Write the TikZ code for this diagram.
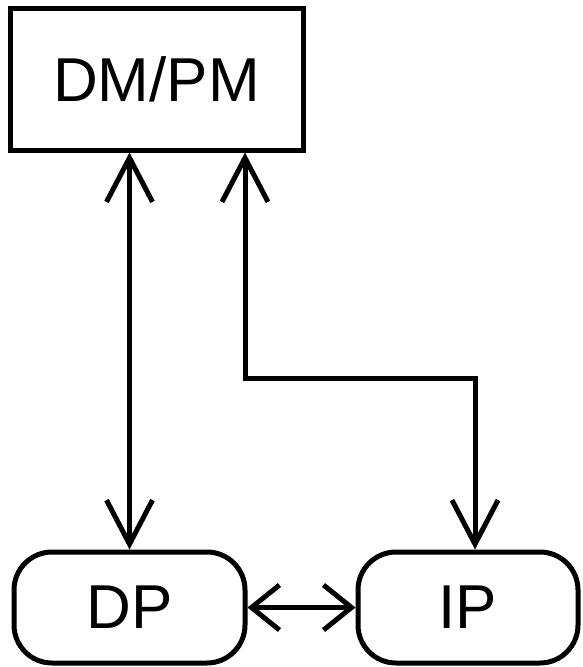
\documentclass[tikz,border=0pt]{standalone}
\usepackage{fontspec}
\setmainfont{Liberation Sans}
\usepackage{tikz}
\usetikzlibrary{positioning}
\usetikzlibrary{arrows.meta}

\begin{document}
\begin{tikzpicture}[x=1pt, y=-1pt,
        every node/.style={font=\fontsize{62}{70}\selectfont, line width=5pt, draw, inner sep=0pt},
        unit/.style={rectangle, minimum width=293pt, minimum height=142pt},
        proc/.style={rectangle, rounded corners=38pt, minimum height=111pt},
        link/.style={line width=5pt, {Straight Barb[length=44pt, width=46pt]}-{Straight Barb[length=44pt, width=46pt]}},
        side/.style={line width=5pt, {Straight Barb[length=28pt, width=45pt]}-{Straight Barb[length=28pt, width=45pt]}}]
        \useasboundingbox (0,0) rectangle (583,667);

        \node [unit] (dmpm) at (156.5,79) {DM/PM};
        \node [proc, minimum width=231pt] (dp) at (129.5,607.5) {DP};
        \node [proc, minimum width=220pt, right=108pt of dp] (ip) {IP};

        \coordinate (bend) at (245,378);

        \draw [link] (dmpm.south -| dp.north) -- (dp.north);
        \draw [link] (dmpm.south -| bend) -- (bend) -| ([xshift=7pt]ip.north);
        \draw [side] (dp.east) -- (ip.west);
    \end{tikzpicture}
\end{document}
